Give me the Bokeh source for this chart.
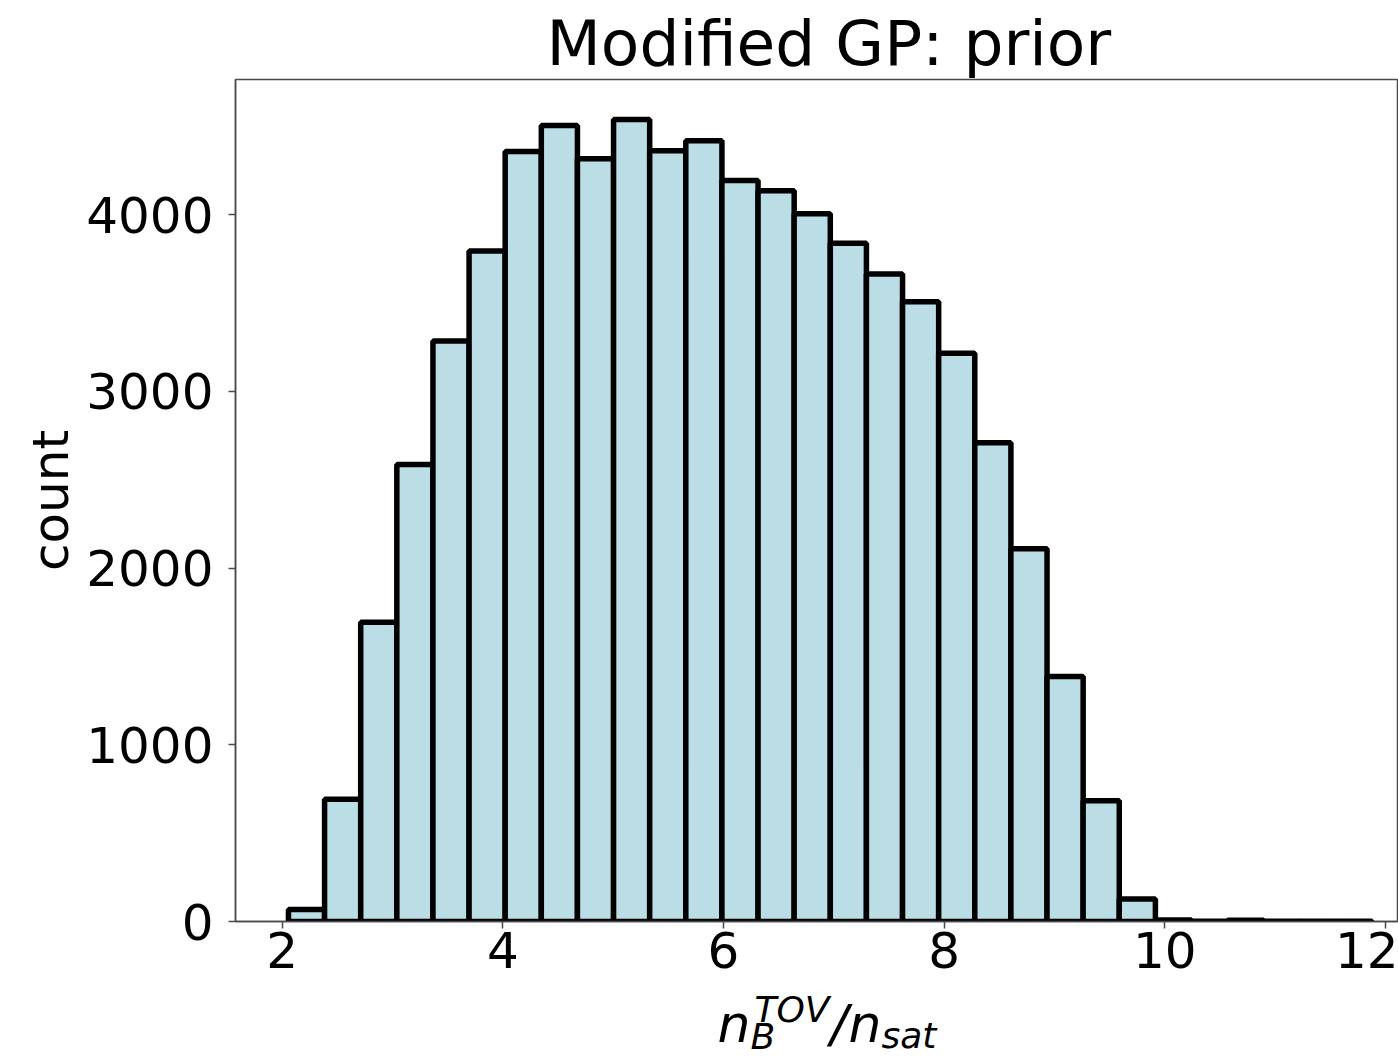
import numpy as np
from bokeh.plotting import figure
from bokeh.layouts import column
from bokeh.models import Range1d, FixedTicker, Label, ColumnDataSource
from bokeh.embed import file_html
from bokeh.resources import INLINE

# ---- data ----
bin_min = 2.057
bin_max = 11.879
n_bins = 30
counts = [68, 691, 1693, 2586, 3284, 3794, 4357, 4503, 4316, 4537,
          4361, 4418, 4192, 4135, 4004, 3838, 3664, 3507, 3215, 2708,
          2109, 1386, 683, 127, 9, 2, 7, 2, 2, 1]
x_ticks = [2, 4, 6, 8, 10, 12]
y_ticks = [0, 1000, 2000, 3000, 4000]
title_text = "Modified GP: prior"
y_label = "count"

edges = np.linspace(bin_min, bin_max, n_bins + 1)
src = ColumnDataSource(dict(left=edges[:-1], right=edges[1:],
                            top=counts, bottom=[0] * n_bins))

FONT = "DejaVu Sans"
SPINE = "#4a4a4a"
W = 1398
H_MAIN = 985
H_LABEL = 1057 - H_MAIN
FRAME_LEFT = 235

p = figure(width=W, height=H_MAIN, output_backend="svg", toolbar_location=None,
           x_range=Range1d(1.577, 12.118), y_range=Range1d(0, 1.05 * max(counts)),
           min_border_left=FRAME_LEFT, min_border_right=0, min_border_top=79,
           min_border_bottom=H_MAIN - 921)

p.quad(left="left", right="right", top="top", bottom="bottom", source=src,
       fill_color="#bbdde6", line_color="black", line_width=5.5)

p.title.text = title_text
p.title.align = "left"
p.title.offset = 311
p.title.standoff = 0
p.title.text_font = FONT
p.title.text_font_size = "63px"
p.title.text_font_style = "normal"
p.title.text_color = "black"

p.grid.visible = False
p.background_fill_color = "white"
p.border_fill_color = "white"
p.outline_line_color = SPINE
p.outline_line_width = 1.5

for ax in (p.xaxis[0], p.yaxis[0]):
    ax.axis_line_color = SPINE
    ax.axis_line_width = 1.5
    ax.major_tick_line_color = SPINE
    ax.major_tick_line_width = 1.5
    ax.major_tick_out = 7
    ax.major_tick_in = 0
    ax.minor_tick_line_color = None
    ax.major_label_text_font = FONT
    ax.major_label_text_font_size = "50px"
    ax.major_label_text_color = "black"

p.xaxis.ticker = FixedTicker(ticks=x_ticks)
p.yaxis.ticker = FixedTicker(ticks=y_ticks)
p.xaxis.major_label_standoff = 3
p.yaxis.major_label_standoff = 15

p.yaxis.axis_label = y_label
p.yaxis.axis_label_text_font = FONT
p.yaxis.axis_label_text_font_size = "50px"
p.yaxis.axis_label_text_font_style = "normal"
p.yaxis.axis_label_text_color = "black"
p.yaxis.axis_label_standoff = 3

# x axis label strip: n_B^TOV / n_sat built from pieces
q = figure(width=W, height=H_LABEL, output_backend="svg", toolbar_location=None,
           x_range=Range1d(0, 1), y_range=Range1d(0, 1),
           x_axis_location=None, y_axis_location=None, min_border=0)
q.grid.visible = False
q.outline_line_color = None
q.background_fill_color = "white"
q.border_fill_color = "white"

pieces = [
    ("n", 482, 34, "52px"),
    ("B", 515, 21, "36px"),
    ("TOV", 519, 48, "36px"),
    ("/", 595, 34, "52px"),
    ("n", 613, 34, "52px"),
    ("sat", 646, 22, "36px"),
]
for t, xs, ys, fs in pieces:
    q.add_layout(Label(x=xs, y=ys, x_units="screen", y_units="screen", text=t,
                       text_align="left", text_baseline="alphabetic",
                       text_font=FONT, text_font_style="italic",
                       text_font_size=fs, text_color="black"))

layout = column(p, q, spacing=0)
open("out.html", "w").write(file_html(layout, INLINE))
